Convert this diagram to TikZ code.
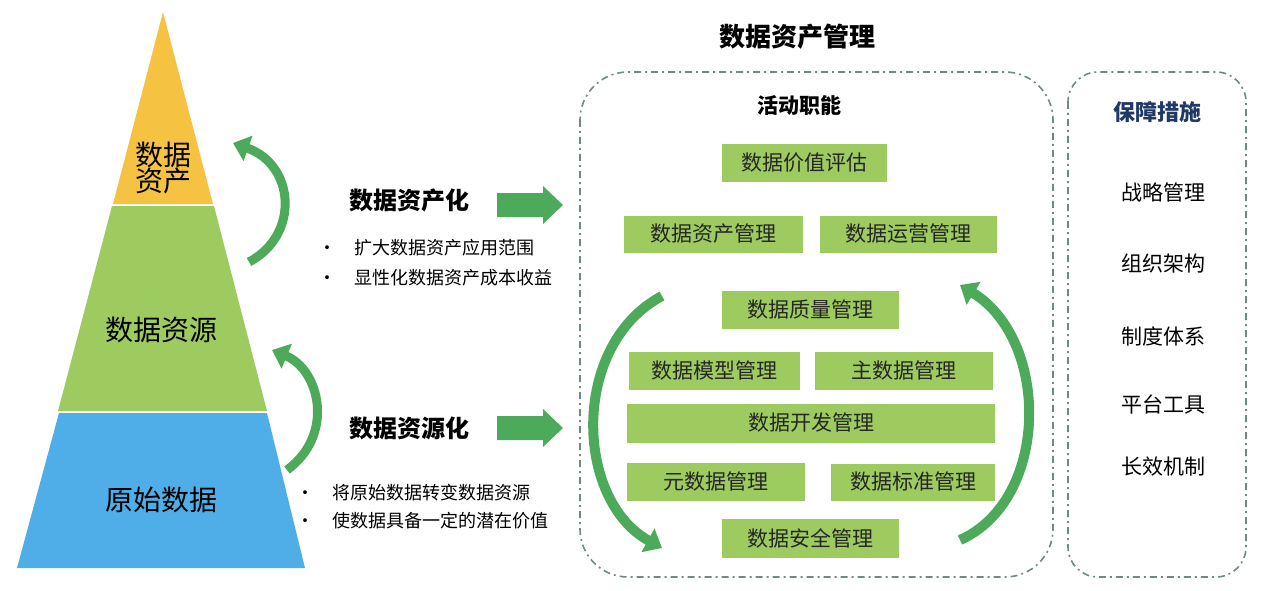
\documentclass[tikz,border=0pt]{standalone}
\usepackage{fontspec}
\setmainfont{Noto Sans CJK SC}
\usetikzlibrary{arrows.meta}
\definecolor{yel}{HTML}{F5C242}
\definecolor{grn}{HTML}{9DCB5F}
\definecolor{blu}{HTML}{4FAEE8}
\definecolor{arr}{HTML}{4DAA5A}
\definecolor{dash}{HTML}{6F8A80}
\definecolor{navy}{HTML}{1F3864}
\begin{document}
\begin{tikzpicture}[x=1pt,y=-1pt,
  box/.style={fill=grn,draw=white,line width=1pt,font=\fontsize{21}{22}\selectfont,text=black!85,inner sep=0},
  curv/.style={draw=arr,line width=9pt,-{Triangle[length=16pt,width=26pt]}},
  blk/.style={fill=arr},
  frame/.style={draw=dash,line width=1.6pt,dash pattern=on 7pt off 4pt on 2pt off 4pt,rounded corners=48pt},
  ttl/.style={font=\fontsize{24}{26}\selectfont\bfseries},
  side/.style={font=\fontsize{21}{22}\selectfont},
  bul/.style={font=\fontsize{18}{20}\selectfont,anchor=west}]
\useasboundingbox (0,0) rectangle (1269,591);
% pyramid
\fill[blu] (17,568) -- (305,568) -- (267,413) -- (59,413) -- cycle;
\fill[grn] (58,411) -- (267,411) -- (214,206) -- (112,206) -- cycle;
\fill[yel] (113,204) -- (213,204) -- (163,12) -- cycle;
\node[font=\fontsize{28}{32}\selectfont,align=center] (pa) at (163,168) {数据\\[-6pt]资产};
\node[font=\fontsize{28}{32}\selectfont] (pr) at (161,330) {数据资源};
\node[font=\fontsize{28}{32}\selectfont] (po) at (161,500) {原始数据};
\coordinate (u1) at (249,262); \coordinate (u2) at (233,143);
\coordinate (l1) at (287,470); \coordinate (l2) at (272,350);
\draw[curv] (u1) .. controls (300,235) and (295,165) .. (u2);
\draw[curv] (l1) .. controls (335,435) and (320,370) .. (l2);
% middle labels
\node[ttl] (ta) at (409,200) {数据资产化};
\node[ttl] (tr) at (409,428) {数据资源化};
\fill[blk] (497,193) -- (543,193) -- (543,186) -- (563,205) -- (543,224) -- (543,217) -- (497,217) -- cycle;
\fill[blk] (497,416) -- (543,416) -- (543,409) -- (563,428) -- (543,447) -- (543,440) -- (497,440) -- cycle;
\node[bul] (b1) at (315,248) {•\hspace{18pt}扩大数据资产应用范围};
\node[bul] (b2) at (315,278) {•\hspace{18pt}显性化数据资产成本收益};
\node[bul] (b3) at (293,493) {•\hspace{18pt}将原始数据转变数据资源};
\node[bul] (b4) at (293,521) {•\hspace{18pt}使数据具备一定的潜在价值};
% frames
\node[font=\fontsize{26}{28}\selectfont\bfseries] (title) at (797,37) {数据资产管理};
\draw[frame] (580,72) rectangle (1053,577);
\draw[frame,rounded corners=30pt] (1068,72) rectangle (1246,577);
\node[font=\fontsize{21}{22}\selectfont\bfseries] (act) at (799,105) {活动职能};
\node[ttl,text=navy,font=\fontsize{22}{24}\selectfont\bfseries] (bz) at (1157,112) {保障措施};
\node[side] (s1) at (1163,192) {战略管理};
\node[side] (s2) at (1163,264) {组织架构};
\node[side] (s3) at (1163,336) {制度体系};
\node[side] (s4) at (1163,404) {平台工具};
\node[side] (s5) at (1163,467) {长效机制};
% boxes
\node[box,minimum width=166pt,minimum height=38pt] (k1) at (804,163) {数据价值评估};
\node[box,minimum width=180pt,minimum height=38pt] (k2) at (713,234) {数据资产管理};
\node[box,minimum width=178pt,minimum height=38pt] (k3) at (908,234) {数据运营管理};
\node[box,minimum width=178pt,minimum height=39pt] (k4) at (810,310) {数据质量管理};
\node[box,minimum width=172pt,minimum height=39pt] (k5) at (714,371) {数据模型管理};
\node[box,minimum width=179pt,minimum height=39pt] (k6) at (904,371) {主数据管理};
\node[box,minimum width=369pt,minimum height=40pt] (k7) at (811,423) {数据开发管理};
\node[box,minimum width=179pt,minimum height=39pt] (k8) at (716,482) {元数据管理};
\node[box,minimum width=165pt,minimum height=38pt] (k9) at (913,482) {数据标准管理};
\node[box,minimum width=178pt,minimum height=40pt] (k10) at (810,538) {数据安全管理};
% big cycle arrows
\coordinate (c1) at (662,296); \coordinate (c2) at (662,548);
\coordinate (c3) at (960,540); \coordinate (c4) at (960,285);
\draw[curv,line width=10pt] (c1) .. controls (570,345) and (575,500) .. (c2);
\draw[curv,line width=10pt] (c3) .. controls (1050,500) and (1050,340) .. (c4);
\end{tikzpicture}
\end{document}
